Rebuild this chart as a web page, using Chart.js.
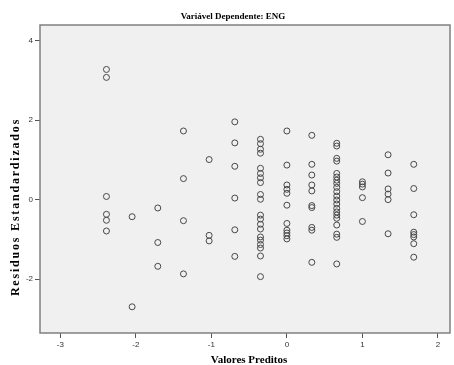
<!DOCTYPE html>
<html lang="pt">
<head>
  <meta charset="UTF-8" />
  <title>Variável Dependente: ENG</title>
  <script src="https://cdn.jsdelivr.net/npm/chart.js"></script>
  <style>
    body { margin: 0; background: #fff; }
    #grafico { display: block; }
  </style>
</head>
<body>
  <canvas id="grafico" width="454" height="365"></canvas>

  <script>
    // valores preditos (colunas) e resíduos estandardizados em cada coluna
    const valoresPreditos = [-2.39, -2.05, -1.71, -1.37, -1.03, -0.69, -0.35, 0.0, 0.33, 0.66, 1.0, 1.34, 1.68];
    const residuosPorColuna = [
      [3.28, 3.08, 0.08, -0.37, -0.52, -0.79],
      [-0.43, -2.70],
      [-0.21, -1.08, -1.68],
      [1.73, 0.53, -0.53, -1.87],
      [1.01, -0.90, -1.04],
      [1.96, 1.43, 0.84, 0.04, -0.76, -1.43],
      [1.52, 1.41, 1.27, 1.17, 0.79, 0.66, 0.55, 0.43, 0.13, 0.01, -0.39, -0.49, -0.62, -0.74, -0.94, -1.02, -1.13, -1.22, -1.42, -1.94],
      [1.73, 0.87, 0.37, 0.26, 0.16, -0.14, -0.60, -0.77, -0.84, -0.91, -0.99],
      [1.62, 0.89, 0.62, 0.37, 0.22, -0.15, -0.20, -0.70, -0.77, -1.58],
      [1.42, 1.35, 1.04, 0.97, 0.66, 0.57, 0.49, 0.41, 0.31, 0.20, 0.09, -0.01, -0.11, -0.22, -0.31, -0.39, -0.47, -0.64, -0.87, -0.95, -1.62],
      [0.45, 0.39, 0.32, 0.05, -0.55],
      [1.13, 0.67, 0.27, 0.14, 0.0, -0.86],
      [0.89, 0.28, -0.38, -0.82, -0.88, -0.94, -1.11, -1.45]
    ];
    const ticksX = [-3, -2, -1, 0, 1, 2];
    const ticksY = [-2, 0, 2, 4];

    const titulo = 'Variável Dependente: ENG';
    const tituloX = 'Valores Preditos';
    const tituloY = 'Residuos Estandardizados';

    const pontos = [];
    valoresPreditos.forEach((x, i) => {
      residuosPorColuna[i].forEach(y => pontos.push({ x: x, y: y }));
    });

    // fundo cinza da área do gráfico + títulos
    const fundoETitulos = {
      id: 'fundoETitulos',
      beforeDraw(chart) {
        const { ctx, chartArea: a } = chart;
        ctx.save();
        ctx.fillStyle = '#f0f0f0';
        ctx.fillRect(a.left, a.top, a.right - a.left, a.bottom - a.top);
        ctx.restore();
      },
      afterDraw(chart) {
        const { ctx, chartArea: a } = chart;
        ctx.save();
        ctx.strokeStyle = '#808080';
        ctx.lineWidth = 1.5;
        ctx.strokeRect(a.left, a.top, a.right - a.left, a.bottom - a.top);

        ctx.fillStyle = '#000';
        ctx.textAlign = 'center';
        ctx.textBaseline = 'middle';
        ctx.font = 'bold 9px "Liberation Serif"';
        ctx.fillText(titulo, 233, 17);

        ctx.font = 'bold 11px "Liberation Serif"';
        ctx.fillText(tituloX, 249, 360);

        ctx.translate(16, 207);
        ctx.rotate(-Math.PI / 2);
        ctx.font = 'bold 12px "Liberation Serif"';
        ctx.letterSpacing = '1.8px';
        ctx.fillText(tituloY, 0, 0);
        ctx.restore();
      }
    };

    new Chart(document.getElementById('grafico'), {
      type: 'scatter',
      data: {
        datasets: [{
          data: pontos,
          pointRadius: 3,
          pointHoverRadius: 3,
          borderWidth: 1,
          borderColor: '#484848',
          backgroundColor: 'rgba(0,0,0,0)'
        }]
      },
      options: {
        responsive: false,
        animation: false,
        layout: { padding: { top: 25, right: 1, left: 0, bottom: 0 } },
        plugins: {
          legend: { display: false },
          tooltip: { enabled: false },
          title: { display: false }
        },
        scales: {
          x: {
            type: 'linear',
            min: -3.27,
            max: 2.16,
            afterBuildTicks: s => { s.ticks = ticksX.map(v => ({ value: v })); },
            afterFit: s => { s.height = 32; },
            border: { display: false },
            grid: { drawOnChartArea: false, drawTicks: true, tickLength: 5, color: '#555' },
            ticks: { font: { family: 'Liberation Sans', size: 8 }, color: '#333', padding: 2 }
          },
          y: {
            type: 'linear',
            min: -3.36,
            max: 4.4,
            afterBuildTicks: s => { s.ticks = ticksY.map(v => ({ value: v })); },
            afterFit: s => { s.width = 40; },
            border: { display: false },
            grid: { drawOnChartArea: false, drawTicks: true, tickLength: 5, color: '#555' },
            ticks: { font: { family: 'Liberation Sans', size: 8 }, color: '#333', padding: 2 }
          }
        }
      },
      plugins: [fundoETitulos]
    });
  </script>
</body>
</html>
